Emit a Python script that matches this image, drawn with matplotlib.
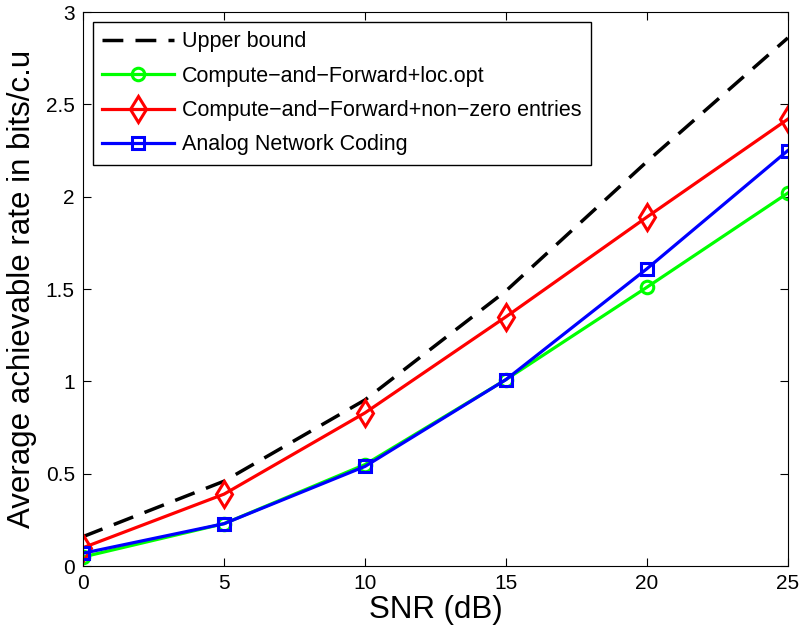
import matplotlib
matplotlib.use("Agg")
import matplotlib.pyplot as plt
import numpy as np

plt.rcParams["font.family"] = ["Liberation Sans", "DejaVu Sans"]

snr = [0, 5, 10, 15, 20, 25]
upper_bound = [0.16, 0.46, 0.90, 1.49, 2.19, 2.86]
cf_loc_opt = [0.05, 0.23, 0.55, 1.01, 1.51, 2.02]
cf_nonzero = [0.10, 0.39, 0.83, 1.35, 1.89, 2.42]
anc = [0.07, 0.23, 0.54, 1.01, 1.61, 2.25]

fig = plt.figure(figsize=(7.99, 6.34), dpi=100)
ax = fig.add_axes([0.104, 0.107, 0.882, 0.874])

ax.plot(snr, upper_bound, "k--", lw=2.5, dashes=(6, 3.5), label="Upper bound")
ax.plot(snr, cf_loc_opt, color="#00ff00", lw=2.3, marker="o", ms=9, mew=2.2,
        fillstyle="none", label="Compute\u2212and\u2212Forward+loc.opt")
ax.plot(snr, cf_nonzero, color="#ff0000", lw=2.3, marker="d", ms=13, mew=2.2,
        fillstyle="none", label="Compute\u2212and\u2212Forward+non\u2212zero entries")
ax.plot(snr, anc, color="#0000ff", lw=2.3, marker="s", ms=8.5, mew=2.2,
        fillstyle="none", label="Analog Network Coding")

ax.set_xlim(0, 25)
ax.set_ylim(0, 3)
ax.set_xticks(snr)
ax.set_yticks([0, 0.5, 1, 1.5, 2, 2.5, 3])
ax.set_yticklabels(["0", "0.5", "1", "1.5", "2", "2.5", "3"])
ax.tick_params(direction="in", top=True, right=True, labelsize=15, length=6, pad=6)
ax.set_xlabel("SNR (dB)", fontsize=22.5, labelpad=1)
ax.set_ylabel("Average achievable rate in bits/c.u", fontsize=22.5, labelpad=6)

leg = ax.legend(loc="upper left", fontsize=15.5, fancybox=False, framealpha=1,
                edgecolor="black", handlelength=3.3, handletextpad=0.4,
                borderpad=0.45, labelspacing=0.62, borderaxespad=0.45)
leg.get_frame().set_linewidth(1.0)

fig.savefig("out.png", dpi=100)
